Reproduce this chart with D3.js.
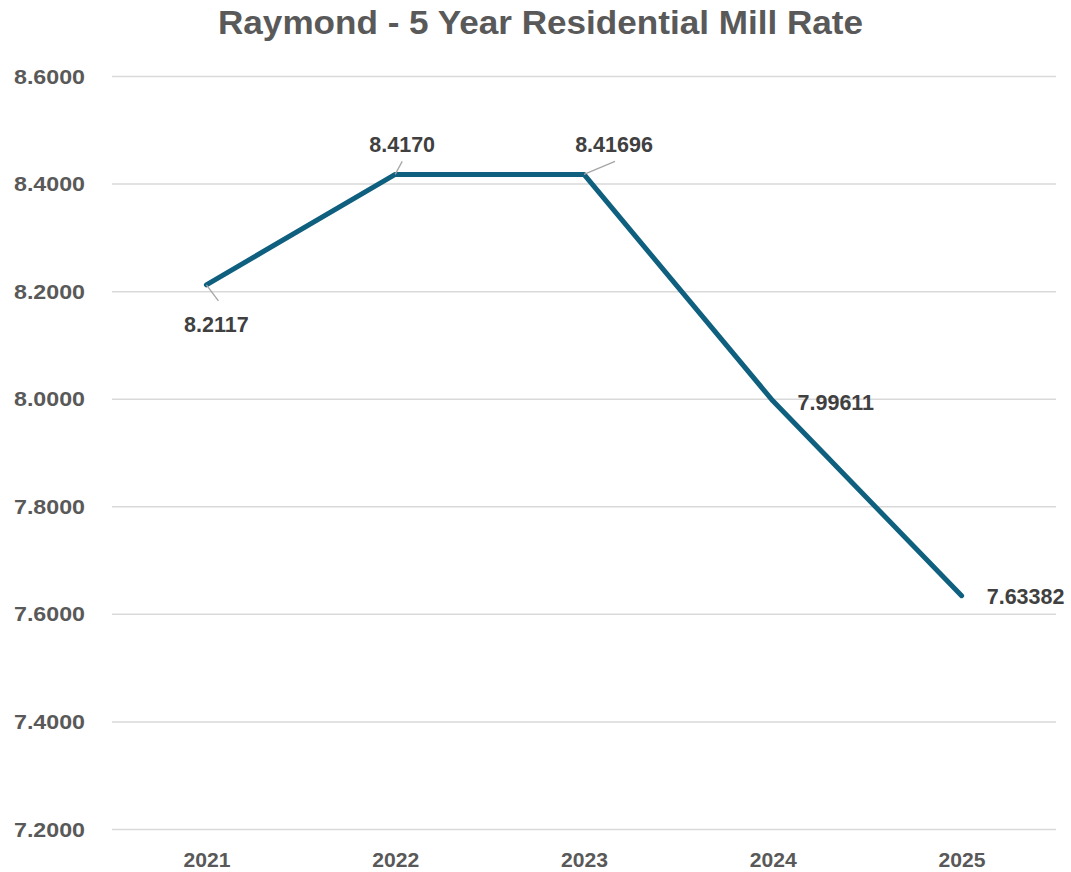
<!DOCTYPE html>
<html><head><meta charset="utf-8">
<script src="https://cdn.jsdelivr.net/npm/d3@7"></script>
<style>body{margin:0;background:#fff;}svg{display:block;}</style>
</head><body>
<svg id="c" width="1071" height="872"></svg>
<script>
const years = ["2021","2022","2023","2024","2025"];
const millRates = [8.2117, 8.4170, 8.41696, 7.99611, 7.63382];
const valueLabels = ["8.2117","8.4170","8.41696","7.99611","7.63382"];
const yTicks = [7.2, 7.4, 7.6, 7.8, 8.0, 8.2, 8.4, 8.6];
const title = "Raymond - 5 Year Residential Mill Rate";

// label placement (layout only)
const labelOffsets = [[10,40],[7,-30],[30,-30],[63,2],[64,1]];
const leaders = [true,true,true,false,false];

const svg = d3.select("#c");
const L = 112, R = 1056, T = 76, B = 829;
const x = d3.scalePoint().domain(years).range([L,R]).padding(0.5);
const y = d3.scaleLinear().domain([7.2,8.6]).range([B,T]);

svg.append("text").attr("x",540.5).attr("y",34).attr("text-anchor","middle")
  .attr("font-family","Liberation Sans, Arial, sans-serif").attr("font-weight","bold")
  .attr("font-size",33).attr("fill","#595959")
  .attr("textLength",645).attr("lengthAdjust","spacingAndGlyphs").text(title);

const yAxis = svg.append("g").attr("transform",`translate(${L},0)`)
  .call(d3.axisLeft(y).tickValues(yTicks).tickSize(-(R-L)).tickFormat(d3.format(".4f")));
yAxis.select(".domain").remove();
yAxis.selectAll(".tick line").attr("stroke","#d9d9d9").attr("stroke-width",1.5);
yAxis.selectAll(".tick text").attr("x",-27).attr("dy","0.35em")
  .attr("font-family","Liberation Sans, Arial, sans-serif").attr("font-weight","bold")
  .attr("font-size",20).attr("fill","#595959")
  .attr("textLength",71).attr("lengthAdjust","spacingAndGlyphs");

const xAxis = svg.append("g").attr("transform",`translate(0,${B})`)
  .call(d3.axisBottom(x).tickSize(0));
xAxis.select(".domain").remove();
xAxis.selectAll(".tick text").attr("y",38).attr("dy","0")
  .attr("font-family","Liberation Sans, Arial, sans-serif").attr("font-weight","bold")
  .attr("font-size",20).attr("fill","#595959")
  .attr("textLength",47).attr("lengthAdjust","spacingAndGlyphs");

const data = years.map((yr,i)=>({yr, v:millRates[i], lab:valueLabels[i], off:labelOffsets[i], ld:leaders[i]}));

svg.append("path").datum(data)
  .attr("d", d3.line().x(d=>x(d.yr)).y(d=>y(d.v)))
  .attr("fill","none").attr("stroke","#0f5f7f").attr("stroke-width",5)
  .attr("stroke-linejoin","round").attr("stroke-linecap","round");

// leader lines
const leaderEnds = [[12,16],[7,-13],[31,-13]];
data.forEach((d,i)=>{
  if(!d.ld) return;
  const px=x(d.yr), py=y(d.v), e=leaderEnds[i];
  svg.append("line").attr("x1",px).attr("y1",py).attr("x2",px+e[0]).attr("y2",py+e[1])
    .attr("stroke","#a6a6a6").attr("stroke-width",1.3);
});

svg.selectAll("text.lbl").data(data).join("text").attr("class","lbl")
  .attr("x",d=>x(d.yr)+d.off[0]).attr("y",d=>y(d.v)+d.off[1]).attr("dy","0.35em")
  .attr("text-anchor","middle")
  .attr("font-family","Liberation Sans, Arial, sans-serif").attr("font-weight","bold")
  .attr("font-size",21.5).attr("fill","#404040").text(d=>d.lab);
</script>
</body></html>
